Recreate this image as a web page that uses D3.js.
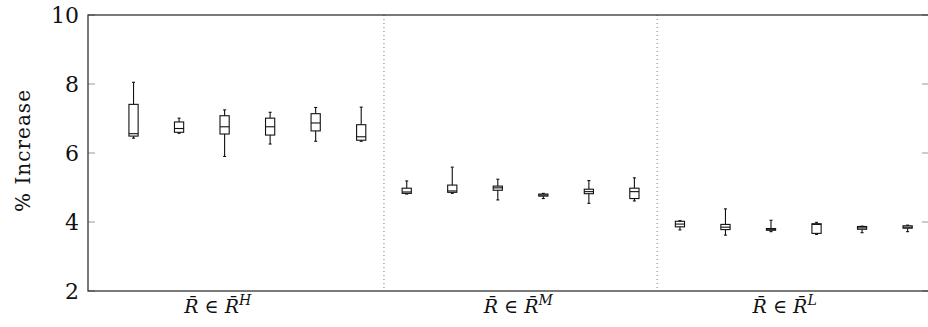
<!DOCTYPE html>
<html><head><meta charset="utf-8">
<script src="https://cdn.jsdelivr.net/npm/d3@7"></script>
<style>html,body{margin:0;padding:0;background:#fff;}svg{display:block;}</style>
</head><body><svg id="c" width="928" height="327"></svg>
<script>
const positions = [1,2,3,4,5,6,7,8,9,10,11,12,13,14,15,16,17,18];
const upperWhisker = [8.05,7.01,7.25,7.18,7.32,7.33, 5.19,5.59,5.24,4.83,5.20,5.28, 4.04,4.38,4.05,3.99,3.88,3.91];
const q3 =           [7.41,6.90,7.08,7.01,7.14,6.82, 4.98,5.07,5.04,4.81,4.95,4.98, 4.02,3.93,3.81,3.95,3.87,3.89];
const medians =      [6.56,6.71,6.76,6.76,6.87,6.47, 4.87,4.90,4.99,4.78,4.88,4.88, 3.94,3.85,3.79,3.93,3.83,3.85];
const q1 =           [6.49,6.60,6.55,6.52,6.64,6.37, 4.83,4.86,4.92,4.75,4.82,4.68, 3.86,3.78,3.76,3.67,3.79,3.82];
const lowerWhisker = [6.43,6.57,5.90,6.26,6.34,6.34, 4.81,4.83,4.64,4.68,4.54,4.61, 3.77,3.62,3.72,3.64,3.69,3.72];
const groupSeparators = [6.5, 12.5];
const groupLabelPos = [2.85, 9.45, 15.3];
const groupSup = ["H", "M", "L"];
const yTicks = [2,4,6,8,10];

const svg = d3.select("#c");
const L = 88, R = 929, T = 15, B = 291;
const x = d3.scaleLinear().domain([0, 18.47]).range([L, R]);
const y = d3.scaleLinear().domain([2, 10]).range([B, T]);
const font = "'DejaVu Serif', serif";

// separators
svg.selectAll("line.sep").data(groupSeparators).join("line")
  .attr("x1", d => x(d)).attr("x2", d => x(d)).attr("y1", T).attr("y2", B)
  .attr("stroke", "#777").attr("stroke-width", 1).attr("stroke-dasharray", "1,3");

// ticks left/right
const ticksG = svg.append("g");
yTicks.forEach(t => {
  ticksG.append("line").attr("x1", L).attr("x2", L + 7).attr("y1", y(t)).attr("y2", y(t)).attr("stroke", "#999").attr("stroke-width", 1);
  ticksG.append("line").attr("x1", R - 7).attr("x2", R).attr("y1", y(t)).attr("y2", y(t)).attr("stroke", "#999").attr("stroke-width", 1);
});

// frame
svg.append("rect").attr("x", L).attr("y", T).attr("width", R - L).attr("height", B - T)
  .attr("fill", "none").attr("stroke", "#222").attr("stroke-width", 1.2);

// y tick labels
svg.selectAll("text.yt").data(yTicks).join("text")
  .attr("x", 79).attr("y", d => y(d)).attr("dy", "0.36em").attr("text-anchor", "end")
  .style("font-family", font).style("font-size", "22px").attr("fill", "#111").text(d => d);

// y axis label
svg.append("text").attr("transform", "translate(30,151) rotate(-90)")
  .attr("text-anchor", "middle").style("font-family", font).style("font-size", "20px").attr("fill", "#111")
  .attr("textLength", 122).attr("lengthAdjust", "spacing")
  .text("% Increase");

// x group labels
groupLabelPos.forEach((p, i) => {
  const t = svg.append("text").attr("x", x(p)).attr("y", 313).attr("text-anchor", "middle")
    .style("font-family", font).style("font-size", "19px").attr("fill", "#111");
  t.append("tspan").attr("font-style", "italic").text("R\u0304");
  t.append("tspan").text(" \u2208 ");
  t.append("tspan").attr("font-style", "italic").text("R\u0304");
  t.append("tspan").attr("font-style", "italic").style("font-size", "14px").attr("dy", -8).text(groupSup[i]);
});

// boxplots
const hw = 4.6, cap = 1.5;
const boxes = svg.append("g").attr("stroke", "#111").attr("stroke-width", 1.1).attr("fill", "none");
positions.forEach((p, i) => {
  const cx = x(p);
  const g = boxes.append("g");
  g.append("line").attr("x1", cx).attr("x2", cx).attr("y1", y(q3[i])).attr("y2", y(upperWhisker[i]));
  g.append("line").attr("x1", cx).attr("x2", cx).attr("y1", y(q1[i])).attr("y2", y(lowerWhisker[i]));
  g.append("line").attr("x1", cx - cap).attr("x2", cx + cap).attr("y1", y(upperWhisker[i])).attr("y2", y(upperWhisker[i]));
  g.append("line").attr("x1", cx - cap).attr("x2", cx + cap).attr("y1", y(lowerWhisker[i])).attr("y2", y(lowerWhisker[i]));
  g.append("rect").attr("x", cx - hw).attr("y", y(q3[i])).attr("width", 2 * hw)
    .attr("height", y(q1[i]) - y(q3[i])).attr("fill", "#fff");
  g.append("line").attr("x1", cx - hw).attr("x2", cx + hw).attr("y1", y(medians[i])).attr("y2", y(medians[i]));
});
</script></body></html>
